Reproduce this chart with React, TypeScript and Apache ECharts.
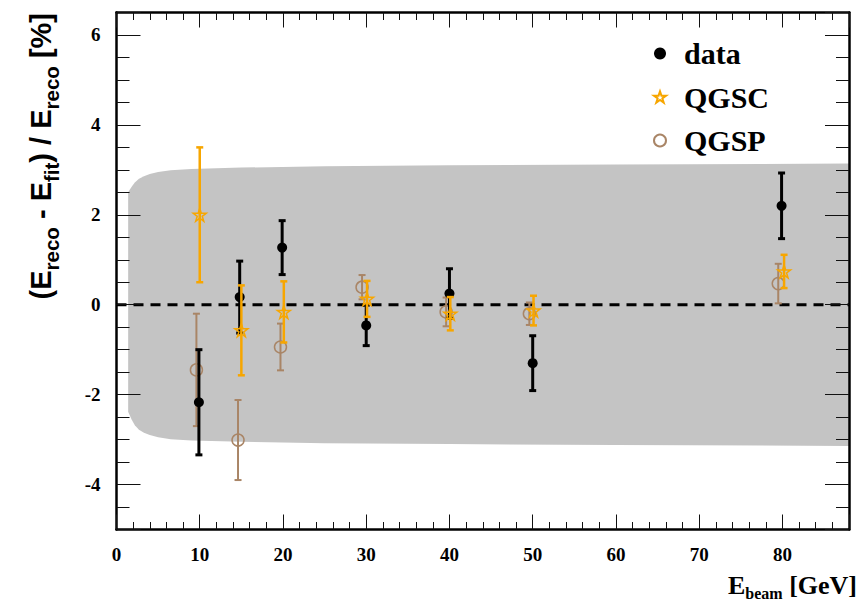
import React, { useEffect, useRef } from 'react';
import * as echarts from 'echarts';

// ---- data ----
const dataX = [9.9, 14.8, 19.9, 30.0, 40.0, 50.0, 79.9];
const dataY = [-2.17, 0.17, 1.27, -0.46, 0.25, -1.3, 2.2];
const dataErr = [1.17, 0.8, 0.6, 0.45, 0.55, 0.61, 0.73];

const qgscX = [10.0, 15.0, 20.1, 30.1, 40.1, 50.1, 80.2];
const qgscY = [2.0, -0.57, -0.16, 0.13, -0.2, -0.13, 0.74];
const qgscErr = [1.5, 1.0, 0.68, 0.4, 0.37, 0.33, 0.37];

const qgspX = [9.6, 14.6, 19.7, 29.5, 39.6, 49.6, 79.5];
const qgspY = [-1.45, -3.01, -0.94, 0.39, -0.16, -0.2, 0.47];
const qgspErr = [1.25, 0.89, 0.52, 0.27, 0.32, 0.25, 0.44];

const bandE = [1.4, 1.8, 2.2, 2.7, 3.3, 4, 5, 6.5, 9, 15, 25, 40, 60, 88];
const bandUpper = [2.5, 2.62, 2.72, 2.8, 2.86, 2.91, 2.95, 2.99, 3.02, 3.05, 3.08, 3.1, 3.12, 3.14];
const bandLower = [-2.38, -2.55, -2.68, -2.78, -2.85, -2.9, -2.95, -2.99, -3.02, -3.05, -3.08, -3.1, -3.12, -3.14];

const zeroLine = [[0, 0], [88, 0]];

const serif = 'Liberation Serif';
const sans = 'Liberation Sans';
const ORANGE = '#f7a600';
const BROWN = '#a98566';
const STAR = 'path://M50,0 L61.8,35.4 L99,35.4 L69,57.3 L80.3,92.7 L50,70.8 L19.7,92.7 L31,57.3 L1,35.4 L38.2,35.4 Z';

function errSeries(name: string, xs: number[], ys: number[], errs: number[], color: string, width: number, z: number) {
  return {
    type: 'custom',
    name: name + ' err',
    silent: true,
    z,
    data: xs.map((x, i) => [x, ys[i] - errs[i], ys[i] + errs[i]]),
    encode: { x: 0, y: [1, 2] },
    renderItem: (params: any, api: any) => {
      const x = api.value(0);
      const p1 = api.coord([x, api.value(1)]);
      const p2 = api.coord([x, api.value(2)]);
      const c = 3.5;
      const st = { stroke: color, lineWidth: width };
      return {
        type: 'group',
        children: [
          { type: 'line', shape: { x1: p1[0], y1: p1[1], x2: p2[0], y2: p2[1] }, style: st },
          { type: 'line', shape: { x1: p1[0] - c, y1: p1[1], x2: p1[0] + c, y2: p1[1] }, style: st },
          { type: 'line', shape: { x1: p2[0] - c, y1: p2[1], x2: p2[0] + c, y2: p2[1] }, style: st },
        ],
      };
    },
  };
}

export default function App() {
  const ref = useRef<HTMLDivElement>(null);
  useEffect(() => {
    if (!ref.current) return;
    const chart = echarts.init(ref.current, null, { renderer: 'svg' });
    const tickStyle = { color: '#111', width: 1 };
    const axisLine = { show: true, onZero: false, lineStyle: { color: '#000', width: 2.5 } };
    const labelStyle = { fontFamily: serif, fontWeight: 'bold', fontSize: 19, color: '#000' };
    const xCommon = {
      type: 'value', min: 0, max: 88, interval: 10, z: 10,
      axisLine, splitLine: { show: false },
      axisTick: { inside: true, length: 15, lineStyle: tickStyle },
      minorTick: { show: true, splitNumber: 5, length: 7.5, lineStyle: tickStyle },
    };
    const yCommon = {
      type: 'value', min: -5, max: 6.5, splitNumber: 5, z: 10,
      axisLine, splitLine: { show: false },
      axisTick: { inside: true, length: 24, lineStyle: tickStyle },
      minorTick: { show: true, splitNumber: 4, length: 13, lineStyle: tickStyle },
    };
    const option: any = {
      animation: false,
      backgroundColor: '#fff',
      grid: { left: 116.5, right: 14, top: 12.5, bottom: 72.5, containLabel: false },
      xAxis: [
        { ...xCommon, position: 'bottom', axisLabel: { ...labelStyle, margin: 15, showMaxLabel: false } },
        { ...xCommon, position: 'top', axisLabel: { show: false } },
      ],
      yAxis: [
        { ...yCommon, position: 'left', axisLabel: { ...labelStyle, margin: 16, showMinLabel: false, showMaxLabel: false } },
        { ...yCommon, position: 'right', axisLabel: { show: false } },
      ],
      legend: {
        data: ['data', 'QGSC', 'QGSP'],
        orient: 'vertical', left: 648, top: 33,
        itemWidth: 12, itemHeight: 12, itemGap: 12.5,
        selectedMode: false,
        textStyle: { fontFamily: serif, fontWeight: 'bold', fontSize: 30, lineHeight: 31, color: '#000', padding: [0, 0, 0, 13] },
      },
      graphic: [
        {
          type: 'text', x: 41, y: 13, rotation: Math.PI / 2, z: 20,
          style: {
            text: '{m|(E}{s|reco}{m| - E}{s|fit}{m|) / E}{s|reco}{m| [%]}',
            align: 'right', verticalAlign: 'middle',
            rich: {
              m: { fontFamily: sans, fontWeight: 'bold', fontSize: 29, lineHeight: 29, verticalAlign: 'top', fill: '#000' },
              s: { fontFamily: sans, fontWeight: 'bold', fontSize: 20.5, lineHeight: 20.5, verticalAlign: 'top', padding: [14, 0, 0, 0], fill: '#000' },
            },
          },
        },
        {
          type: 'text', x: 857, y: 585, z: 20,
          style: {
            text: '{m|E}{s|beam}{m| [GeV]}',
            align: 'right', verticalAlign: 'middle',
            rich: {
              m: { fontFamily: serif, fontWeight: 'bold', fontSize: 26, lineHeight: 26, verticalAlign: 'top', fill: '#000' },
              s: { fontFamily: serif, fontWeight: 'bold', fontSize: 16, lineHeight: 16, verticalAlign: 'top', padding: [13, 0, 0, 0], fill: '#000' },
            },
          },
        },
      ],
      series: [
        {
          type: 'custom', name: 'band', silent: true, z: 1,
          data: [[40, 0]],
          renderItem: (params: any, api: any) => {
            const pts: number[][] = [];
            for (let i = 0; i < bandE.length; i++) pts.push(api.coord([bandE[i], bandUpper[i]]));
            for (let i = bandE.length - 1; i >= 0; i--) pts.push(api.coord([bandE[i], bandLower[i]]));
            return { type: 'polygon', shape: { points: pts }, style: { fill: '#c4c4c4' } };
          },
        },
        {
          type: 'line', name: 'zero', silent: true, z: 2, data: zeroLine,
          showSymbol: false, symbol: 'none',
          lineStyle: { color: '#000', width: 3, type: [10, 7] },
        },
        errSeries('QGSP', qgspX, qgspY, qgspErr, BROWN, 2, 3),
        {
          type: 'scatter', name: 'QGSP', z: 4,
          data: qgspX.map((x, i) => [x, qgspY[i]]),
          symbol: 'circle', symbolSize: 12,
          itemStyle: { color: 'rgba(255,255,255,0)', borderColor: BROWN, borderWidth: 1.5, opacity: 1 },
        },
        errSeries('data', dataX, dataY, dataErr, '#000', 3, 5),
        {
          type: 'scatter', name: 'data', z: 6,
          data: dataX.map((x, i) => [x, dataY[i]]),
          symbol: 'circle', symbolSize: 10,
          itemStyle: { color: '#000', opacity: 1 },
        },
        errSeries('QGSC', qgscX, qgscY, qgscErr, ORANGE, 2.5, 7),
        {
          type: 'scatter', name: 'QGSC', z: 8,
          data: qgscX.map((x, i) => [x, qgscY[i]]),
          symbol: STAR, symbolSize: 13,
          itemStyle: { color: 'rgba(255,255,255,0)', borderColor: ORANGE, borderWidth: 1.5, opacity: 1 },
        },
      ],
    };
    chart.setOption(option);
    return () => chart.dispose();
  }, []);
  return <div ref={ref} style={{ position: 'fixed', left: 0, top: 0, width: 863, height: 602, background: '#fff' }} />;
}
